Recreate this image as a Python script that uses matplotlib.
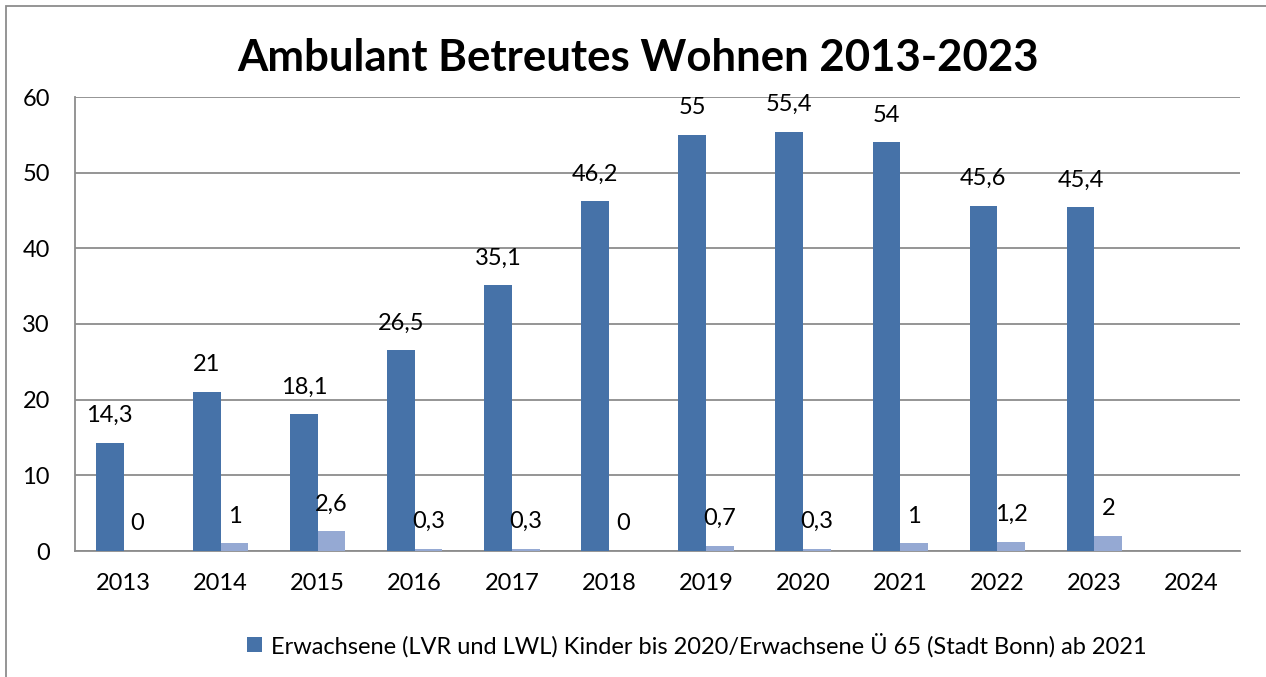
import numpy as np
import matplotlib.pyplot as plt
from matplotlib.patches import Rectangle

plt.rcParams['font.family'] = ['Lato', 'DejaVu Sans']

years = ["2013", "2014", "2015", "2016", "2017", "2018", "2019", "2020", "2021", "2022", "2023", "2024"]
erwachsene = [14.3, 21, 18.1, 26.5, 35.1, 46.2, 55, 55.4, 54, 45.6, 45.4, None]
zweite = [0, 1, 2.6, 0.3, 0.3, 0, 0.7, 0.3, 1, 1.2, 2, None]
labels_erw = ["14,3", "21", "18,1", "26,5", "35,1", "46,2", "55", "55,4", "54", "45,6", "45,4", ""]
labels_zw = ["0", "1", "2,6", "0,3", "0,3", "0", "0,7", "0,3", "1", "1,2", "2", ""]
legend_label = "Erwachsene (LVR und LWL) Kinder bis 2020/Erwachsene Ü 65 (Stadt Bonn) ab 2021"

dark = "#4672A8"
light = "#95A9D3"
grid = "#8C8C8C"

fig = plt.figure(figsize=(12.66, 6.77), dpi=100)
ax = fig.add_axes([75 / 1266, 1 - 551 / 677, 1165 / 1266, 454 / 677])

x = np.arange(len(years))
w = 0.285
v1 = np.array([np.nan if v is None else v for v in erwachsene])
v2 = np.array([np.nan if v is None else v for v in zweite])
b1 = ax.bar(x - w / 2, np.nan_to_num(v1), w, color=dark, label=legend_label, zorder=3)
b2 = ax.bar(x + w / 2, np.nan_to_num(v2), w, color=light, zorder=3)

for i in range(len(years)):
    if labels_erw[i]:
        ax.annotate(labels_erw[i], (x[i] - w / 2, v1[i]), xytext=(0, 12), textcoords="offset points",
                    ha="center", va="bottom", fontsize=17)
    if labels_zw[i]:
        ax.annotate(labels_zw[i], (x[i] + w / 2, v2[i]), xytext=(0, 12), textcoords="offset points",
                    ha="center", va="bottom", fontsize=17)

ax.set_xlim(-0.5, len(years) - 0.5)
ax.set_ylim(0, 60)
ax.set_yticks(range(0, 61, 10))
ax.set_xticks(x)
ax.set_xticklabels(years)
ax.tick_params(axis="both", length=0, labelsize=17)
ax.tick_params(axis="y", pad=18)
ax.tick_params(axis="x", pad=16)
ax.yaxis.grid(True, color=grid, linewidth=1.3, zorder=0)
for s in ["top", "right"]:
    ax.spines[s].set_visible(False)
for s in ["left", "bottom"]:
    ax.spines[s].set_color(grid)
    ax.spines[s].set_linewidth(1.3)

fig.text(638 / 1266, 1 - 58 / 677, "Ambulant Betreutes Wohnen 2013-2023", ha="center", va="center",
         fontsize=31.5, fontweight="bold")

fig.legend(handles=[b1], labels=[legend_label], loc="center", bbox_to_anchor=(697 / 1266, 1 - 645 / 677),
           frameon=False, fontsize=17, handlelength=0.6, handleheight=0.6, handletextpad=0.4)

fig.patches.append(Rectangle((6 / 1266, -0.1), 1.2, 1 - 6 / 677 + 0.1, transform=fig.transFigure,
                             fill=False, edgecolor="#8C8C8C", linewidth=1.3))

fig.savefig("out.png", dpi=100)
